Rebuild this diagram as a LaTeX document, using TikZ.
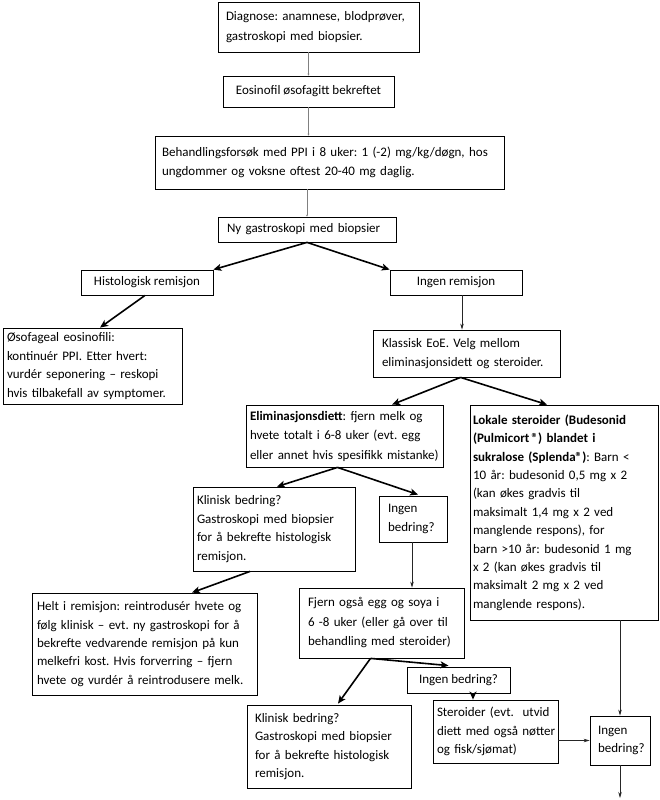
\documentclass[tikz,border=0pt]{standalone}
\usepackage{fontspec}
\setmainfont{Carlito}
\usetikzlibrary{arrows.meta,calc}
\frenchspacing
\begin{document}
\begin{tikzpicture}[x=1pt,y=-1pt,
  box/.style={draw,line width=0.8pt,inner xsep=8pt,inner ysep=0pt,align=left,
    font=\fontsize{13}{19.5}\selectfont,
    execute at begin node={\rightskip=-40pt plus 1fil\relax}},
  cbox/.style={draw,line width=0.8pt,inner xsep=4pt,inner ysep=0pt,align=center,
    font=\fontsize{13}{19.5}\selectfont},
  tight/.style={font=\fontsize{13}{18.4}\selectfont},
  greyline/.style={draw=black!50,line width=1pt,-{Stealth[length=2pt,width=2pt]}},
  thick arrow/.style={draw=black,line width=1.6pt,-{Stealth[length=8pt,width=7pt,inset=2pt]}},
  thin arrow/.style={draw=black!85,line width=0.7pt,-{Stealth[length=6pt,width=3.5pt]}}]
\useasboundingbox (0,0) rectangle (659,800);
\fill[white] (0,0) rectangle (659,800);

\node[box,inner xsep=8pt,minimum width=201pt,minimum height=50pt,text width=185pt] (diag) at (318.5,27)
  {Diagnose: anamnese, blodprøver,\\gastroskopi med biopsier.};
\node[cbox,minimum width=171pt,minimum height=31pt] (eos) at (308.5,91.5)
  {Eosinofil øsofagitt bekreftet};
\node[box,inner xsep=7pt,minimum width=349pt,minimum height=53pt,text width=335pt] (beh) at (329.5,162.5)
  {Behandlingsforsøk med PPI i 8 uker: 1 (-2) mg/kg/døgn, hos\\ungdommer og voksne oftest 20-40 mg daglig.};
\node[box,inner xsep=9pt,minimum width=178pt,minimum height=25pt,text width=160pt] (ny) at (307,229.5)
  {Ny gastroskopi med biopsier};
\node[cbox,minimum width=132pt,minimum height=25pt] (hist) at (147,282.5)
  {Histologisk remisjon};
\node[cbox,minimum width=132pt,minimum height=25pt] (ingrem) at (456,282.5)
  {Ingen remisjon};
\node[box,inner xsep=4pt,minimum width=179pt,minimum height=76pt,text width=171pt,tight] (osof) at (92.5,366)
  {Øsofageal eosinofili:\\kontinuér PPI. Etter hvert:\\vurdér seponering – reskopi\\hvis tilbakefall av symptomer.};
\node[box,inner xsep=9pt,minimum width=187pt,minimum height=47pt,text width=169pt] (klass) at (466.5,353.5)
  {Klassisk EoE. Velg mellom\\eliminasjonsidett og steroider.};
\node[box,inner xsep=4pt,minimum width=197pt,minimum height=62pt,text width=189pt] (elim) at (344.5,436)
  {\textbf{Eliminasjonsdiett}: fjern melk og\\hvete totalt i 6-8 uker (evt. egg\\eller annet hvis spesifikk mistanke)};
\node[box,inner xsep=3pt,minimum width=188pt,minimum height=215pt,text width=182pt,tight] (lok) at (564,512.5)
  {\textbf{Lokale steroider (Budesonid}\\\textbf{(Pulmicort\,®) blandet i}\\\textbf{sukralose (Splenda®)}: Barn <\\10 år: budesonid 0,5 mg x 2\\(kan økes gradvis til\\maksimalt 1,4 mg x 2 ved\\manglende respons), for\\barn >10 år: budesonid 1 mg\\x 2 (kan økes gradvis til\\maksimalt 2 mg x 2 ved\\manglende respons).};
\node[box,inner xsep=4pt,minimum width=162pt,minimum height=84pt,text width=154pt,tight] (klin1) at (274,529)
  {Klinisk bedring?\\Gastroskopi med biopsier\\for å bekrefte histologisk\\remisjon.};
\node[box,inner xsep=9pt,minimum width=68pt,minimum height=46pt,text width=50pt] (ingb1) at (413,519)
  {Ingen\\bedring?};
\node[box,inner xsep=5pt,minimum width=225pt,minimum height=102pt,text width=215pt,tight] (helt) at (144.5,644)
  {Helt i remisjon: reintrodusér hvete og\\følg klinisk – evt. ny gastroskopi for å\\bekrefte vedvarende remisjon på kun\\melkefri kost. Hvis forverring – fjern\\hvete og vurdér å reintrodusere melk.};
\node[box,inner xsep=9pt,minimum width=165pt,minimum height=70pt,text width=147pt] (fjern) at (381.5,623)
  {Fjern også egg og soya i\\6 -8 uker (eller gå over til\\behandling med steroider)};
\node[cbox,minimum width=103pt,minimum height=26pt] (ingb2) at (458.5,680)
  {Ingen bedring?};
\node[box,inner xsep=8pt,minimum width=164pt,minimum height=83pt,text width=148pt,tight] (klin2) at (329,746.5)
  {Klinisk bedring?\\Gastroskopi med biopsier\\for å bekrefte histologisk\\remisjon.};
\node[box,inner xsep=4pt,minimum width=125pt,minimum height=63pt,text width=117pt,tight] (ster) at (495.5,731.5)
  {Steroider (evt.\ \ utvid\\diett med også nøtter\\og fisk/sjømat)};
\node[box,inner xsep=8pt,minimum width=60pt,minimum height=49pt,text width=44pt,tight] (ingb3) at (620,740.5)
  {Ingen\\bedring?};
\coordinate (endpt) at (620,798);

% connectors
\draw[greyline] (eos.north |- diag.south) -- (eos.north);
\draw[greyline] (eos.south) -- (eos.south |- beh.north);
\draw[greyline] (ny.north |- beh.south) -- (ny.north);
\draw[thick arrow] (ny.south) -- (hist.north east);
\draw[thick arrow] (ny.south) -- (ingrem.north west);
\draw[thick arrow] ($(hist.south)+(-2,0)$) -- ($(osof.north)+(7.5,0)$);
\draw[thin arrow] ($(ingrem.south)+(6,0)$) -- ($(ingrem.south |- klass.north)+(6,0)$);
\draw[thick arrow] ($(klass.south)+(-6,0)$) -- ($(elim.north)+(47.5,0)$);
\draw[thick arrow] ($(klass.south)+(-6,0)$) -- ($(lok.north)+(-17,0)$);
\draw[thick arrow] ($(elim.south)+(-7,0)$) -- ($(klin1.north)+(3,0)$);
\draw[thick arrow] ($(elim.south)+(-7,0)$) -- ($(ingb1.north)+(5,-1)$);
\draw[thin arrow] ($(ingb1.south)+(-1,0)$) -- ($(ingb1.south |- fjern.north)+(-1,0)$);
\draw[thick arrow] ($(klin1.south)+(-24,0)$) -- ($(helt.north)+(47.5,0)$);
\draw[thick arrow] ($(fjern.south)+(-11,0)$) -- ($(ingb2.north)+(-10,-1)$);
\draw[thick arrow] ($(fjern.south)+(-11,0)$) -- ($(klin2.north)+(9,-1)$);
\draw[thick arrow] ($(ingb2.south)+(14.5,0)$) -- ($(ingb2.south |- ster.north)+(14.5,0)$);
\draw[thin arrow] (ster.east |- ingb3.west) -- (ingb3.west);
\draw[thin arrow] (ingb3.north |- lok.south) -- (ingb3.north);
\draw[thin arrow] (ingb3.south) -- (endpt);
\end{tikzpicture}
\end{document}
